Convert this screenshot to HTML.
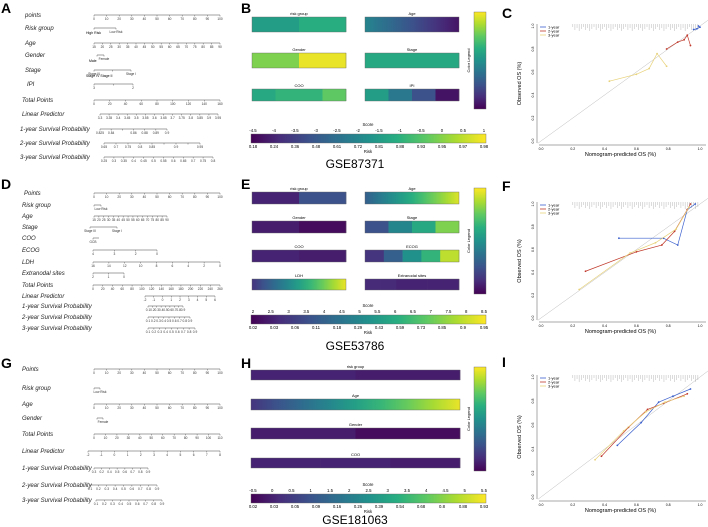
<!DOCTYPE html>
<html><head><meta charset="utf-8"><style>
html,body{margin:0;padding:0;background:#fff;}
svg{display:block;font-family:"Liberation Sans",sans-serif;}
</style></head><body>
<svg id="fig" width="708" height="527" viewBox="0 0 708 527"></svg>
<script>
// ---------- data ----------
const calC_1 = [[0.96,0.97],[0.98,0.975],[1.0,0.99],[0.99,1.0]];
const calC_2 = [[0.79,0.80],[0.86,0.86],[0.90,0.88],[0.92,0.92],[0.94,0.83]];
const calC_3 = [[0.43,0.52],[0.60,0.58],[0.68,0.63],[0.73,0.76],[0.79,0.65]];
const calF_1 = [[0.49,0.70],[0.77,0.70],[0.86,0.64],[0.92,0.95],[0.97,1.0]];
const calF_2 = [[0.28,0.41],[0.60,0.58],[0.76,0.64],[0.84,0.76],[0.92,0.95],[0.94,1.0]];
const calF_3 = [[0.24,0.25],[0.56,0.57],[0.72,0.66],[0.85,0.78],[0.93,0.97]];
const calI_1 = [[0.48,0.43],[0.63,0.62],[0.74,0.79],[0.83,0.84],[0.94,0.90]];
const calI_2 = [[0.38,0.34],[0.55,0.58],[0.67,0.73],[0.77,0.78],[0.92,0.86]];
const calI_3 = [[0.34,0.31],[0.52,0.55],[0.66,0.71],[0.78,0.79],[0.90,0.84]];
const calTicks = [0,0.2,0.4,0.6,0.8,1.0];
const heatB = {"risk group":[0.55,0.62],"Age":"g0.45-0.05","Gender":[0.8,0.97],"Stage":[0.6,0.6,0.6,0.6],"COO":[0.6,0.65,0.65,0.75],"IPI":[0.55,0.4,0.25,0.05]};
const heatE = {"risk group":[0.1,0.25],"Age":"g0.3-0.95","Gender":[0.08,0.03],"Stage":[0.25,0.45,0.6,0.8],"COO":[0.1,0.1,0.08,0.08],"ECOG":[0.15,0.3,0.5,0.65,0.9],"LDH":"g0.15-0.97","Extranodal sites":[0.12,0.12,0.1,0.1,0.1,0.1]};
const heatH = {"risk group":[0.1,0.08],"Age":"g0.15-0.97","Gender":[0.08,0.03],"COO":[0.1,0.1,0.08]};
const scoreB = ["-4.5","-4","-3.5","-3","-2.5","-2","-1.5","-1","-0.5","0","0.5","1"];
const riskB = ["0.18","0.24","0.36","0.48","0.61","0.72","0.81","0.88","0.93","0.95","0.97","0.98"];
const scoreE = ["2","2.5","3","3.5","4","4.5","5","5.5","6","6.5","7","7.5","8","8.5"];
const riskE = ["0.02","0.03","0.06","0.11","0.18","0.29","0.43","0.59","0.73","0.85","0.9","0.95"];
const scoreH = ["-0.5","0","0.5","1","1.5","2","2.5","3","3.5","4","4.5","5","5.5"];
const riskH = ["0.02","0.03","0.05","0.09","0.16","0.26","0.39","0.54","0.68","0.8","0.88","0.93"];

const S = document.getElementById('fig');
const NS = 'http://www.w3.org/2000/svg';
function el(tag, attrs, parent, txt){
  const e = document.createElementNS(NS, tag);
  for (const k in attrs) e.setAttribute(k, attrs[k]);
  if (txt !== undefined) e.textContent = txt;
  (parent||S).appendChild(e);
  return e;
}
const VS = ['#440154','#472d7b','#3b528b','#2c728e','#21918c','#28ae80','#5ec962','#addc30','#fde725'];
function vir(t){ t=Math.max(0,Math.min(1,t)); const f=t*8, i=Math.min(7,Math.floor(f)), r=f-i;
  const a=VS[i], b=VS[i+1]; const c=j=>Math.round(parseInt(a.substr(j,2),16)*(1-r)+parseInt(b.substr(j,2),16)*r);
  return 'rgb('+c(1)+','+c(3)+','+c(5)+')'; }
function grad(id, t0, t1){ const g=el('linearGradient',{id:id,x1:0,x2:1,y1:0,y2:0},defs);
  for(let k=0;k<=8;k++){ el('stop',{offset:k/8,'stop-color':vir(t0+(t1-t0)*k/8)},g);} return 'url(#'+id+')'; }
const defs = el('defs',{});
let gid=0;

[['A',1,13],['B',241,13],['C',502,18],['D',1,189],['E',241,189],['F',502,191],['G',1,368],['H',241,368],['I',502,367]].forEach(p=>{
  const t=el('text',{x:p[1],y:p[2],'font-size':14,'font-weight':'bold'},S,p[0]);
  
  
});

function nomo(rows, name){
  const g=el('g',{});
  
  
  rows.forEach(r=>{
    const [label,y,x0,x1,ticks,lab] = r;
    el('text',{x:lab||22,y:y+2,'font-size':6,'font-style':'italic',fill:'#222'},g,label);
    el('line',{x1:x0,x2:x1,y1:y,y2:y,stroke:'#444','stroke-width':0.5},g);
    ticks.forEach((tk,i)=>{
      const x = x0+(x1-x0)*i/Math.max(1,ticks.length-1);
      el('line',{x1:x,x2:x,y1:y,y2:y+1.5,stroke:'#444','stroke-width':0.4},g);
      el('text',{x:x,y:y+5,'font-size':3.2,'text-anchor':'middle',fill:'#333'},g,tk);
    });
  });
  return g;
}
const seq=(a,b,s)=>{const o=[];for(let v=a;v<=b+1e-9;v+=s)o.push(String(+v.toFixed(2)));return o;};
nomo([
 ['points',15,94,220,seq(0,100,10),25],
 ['Risk group',28,94,116,['','Low Risk'],25],
 ['Age',43,94,220,seq(15,90,5),25],
 ['Gender',55,97,104,['','Female'],25],
 ['Stage',70,94,131,['Stage III','','Stage I'],25],
 ['IPI',84,94,133,['3','','2'],27],
 ['Total Points',100,94,220,seq(0,160,20),22],
 ['Linear Predictor',114,100,218,['3.3','3.35','3.4','3.45','3.5','3.55','3.6','3.65','3.7','3.75','3.8','3.85','3.9','3.95'],22],
 ['1-year Survival Probability',129,100,167,['0.825','0.84','','0.86','0.88','0.89','0.9'],20],
 ['2-year Survival Probability',143,104,200,['0.65','0.7','0.75','0.8','0.85','','0.9','','0.95'],20],
 ['3-year Survival Probability',157,104,213,['0.25','0.3','0.35','0.4','0.45','0.5','0.55','0.6','0.65','0.7','0.75','0.8'],20]
],'nomogram-a');
el('text',{x:86,y:34,'font-size':3.5},S,'High Risk');
el('text',{x:89,y:62,'font-size':3.5},S,'Male');
el('text',{x:86,y:77,'font-size':3.5},S,'Stage IV   Stage II');
nomo([
 ['Points',193,94,220,seq(0,100,10),24],
 ['Risk group',205,94,101,['','Low Risk'],22],
 ['Age',216,94,167,seq(15,90,5),22],
 ['Stage',227,90,117,['Stage III','Stage I'],22],
 ['COO',238,93,99,['GCB'],22],
 ['ECOG',250,93,157,['4','3','2','0'],22],
 ['LDH',262,93,220,['16','14','12','10','8','6','4','2','0'],22],
 ['Extranodal sites',273,93,124,['2','1','0'],22],
 ['Total Points',285,93,220,seq(0,260,20),22],
 ['Linear Predictor',296,145,215,['-2','-1','0','1','2','3','4','5','6'],22],
 ['1-year Survival Probability',306,148,183,seq(0.1,1,0.1).slice(0,9),22],
 ['2-year Survival Probability',317,148,190,seq(0.1,1,0.1).slice(0,9),22],
 ['3-year Survival Probability',328,148,195,seq(0.1,1,0.1).slice(0,9),22]
],'nomogram-d');
nomo([
 ['Points',369,94,220,seq(0,100,10),22],
 ['Risk group',388,94,100,['','Low Risk'],22],
 ['Age',404,94,220,seq(0,100,10),22],
 ['Gender',418,97,103,['','Female'],22],
 ['Total Points',434,94,220,seq(0,110,10),22],
 ['Linear Predictor',451,88,220,['-2','-1','0','1','2','3','4','5','6','7','8'],22],
 ['1-year Survival Probability',468,94,148,['0.3','0.2','0.4','0.5','0.6','0.7','0.8','0.9'],22],
 ['2-year Survival Probability',485,90,157,['0.1','0.2','0.3','0.4','0.5','0.6','0.7','0.8','0.9'],22],
 ['3-year Survival Probability',500,96,162,['0.1','0.2','0.3','0.4','0.5','0.6','0.7','0.8','0.9'],22]
],'nomogram-g');

function heatPanel(data, boxes, name){
  const g=el('g',{});  
  Object.keys(data).forEach((k,i)=>{
    const [x,y,w,h]=boxes[i]; const v=data[k];
    el('text',{x:x+w/2,y:y-2,'font-size':4,'text-anchor':'middle'},g,k);
    if(typeof v==='string'){ const m=v.slice(1).split('-').map(Number);
      el('rect',{x:x,y:y,width:w,height:h,fill:grad('g'+(gid++),m[0],m[1])},g);
    } else v.forEach((t,j)=>{ el('rect',{x:x+w*j/v.length,y:y,width:w/v.length+0.3,height:h,fill:vir(t)},g); });
    el('rect',{x:x,y:y,width:w,height:h,fill:'none',stroke:'#666','stroke-width':0.4},g);
  });
}
function scoreBar(y, scores, risks, title, ty, cbY, cbH, name){
  const g=el('g',{});  
  el('rect',{x:251,y:y,width:235,height:9,fill:grad('g'+(gid++),0,1),stroke:'#666','stroke-width':0.4},g);
  el('text',{x:368,y:y-8,'font-size':4.2,'text-anchor':'middle'},g,'Score');
  scores.forEach((s,i)=>el('text',{x:253+231*i/(scores.length-1),y:y-2,'font-size':4.3,'text-anchor':'middle'},g,s));
  risks.forEach((s,i)=>el('text',{x:253+231*i/(risks.length-1),y:y+14,'font-size':4.3,'text-anchor':'middle'},g,s));
  el('text',{x:368,y:y+19,'font-size':4.2,'text-anchor':'middle'},g,'Risk');
  el('text',{x:355,y:ty,'font-size':12,'text-anchor':'middle'},g,title);
  const cg=el('linearGradient',{id:'cb'+gid,x1:0,x2:0,y1:1,y2:0},defs);
  for(let k=0;k<=8;k++) el('stop',{offset:k/8,'stop-color':vir(k/8)},cg);
  el('rect',{x:474,y:cbY,width:12,height:cbH,fill:'url(#cb'+(gid++)+')',stroke:'#666','stroke-width':0.4},g);
  el('text',{x:0,y:0,'font-size':4,'text-anchor':'middle',transform:'translate(470,'+(cbY+cbH/2)+') rotate(-90)'},g,'Color Legend');
}
const L=252,R=365,W=94;
heatPanel(heatB,[[L,17,W,15],[R,17,W,15],[L,53,W,15],[R,53,W,15],[L,89,W,12],[R,89,W,12]],'heatmap-b');
scoreBar(134,scoreB,riskB,'GSE87371',168,12,97,'score-bar-b');
heatPanel(heatE,[[L,192,W,12],[R,192,W,12],[L,221,W,12],[R,221,W,12],[L,250,W,12],[R,250,W,12],[L,279,W,11],[R,279,W,11]],'heatmap-e');
scoreBar(315,scoreE,riskE,'GSE53786',350,188,106,'score-bar-e');
heatPanel(heatH,[[251,370,209,10],[251,399,209,11],[251,428,209,11],[251,458,209,10]],'heatmap-h');
scoreBar(494,scoreH,riskH,'GSE181063',524,367,104,'score-bar-h');

function calib(y1, y0, s1, s2, s3, name){
  const g=el('g',{});  
  const X=v=>541+159*v, Y=v=>y0-(y0-y1)*v;
  el('line',{x1:537,x2:537,y1:Y(1)-2,y2:Y(0)+2,stroke:'#555','stroke-width':0.5},g);
  el('line',{x1:X(0)-2,x2:706,y1:Y(0)+4,y2:Y(0)+4,stroke:'#555','stroke-width':0.5},g);
  calTicks.forEach(t=>{
    el('text',{x:0,y:0,'font-size':3.5,'text-anchor':'middle',transform:'translate(534,'+Y(t)+') rotate(-90)'},g,t.toFixed(1));
    el('text',{x:X(t),y:Y(0)+9,'font-size':3.5,'text-anchor':'middle'},g,t.toFixed(1));
  });
  el('line',{x1:X(-0.02),y1:Y(-0.02),x2:X(1.05),y2:Y(1.05),stroke:'#bbb','stroke-width':0.5},g);
  for(let i=0;i<60;i++){ const x=X(0.2+0.8*((i*37)%60)/60); el('line',{x1:x,x2:x,y1:Y(1)-2,y2:Y(1)+1+(i%5),stroke:'#888','stroke-width':0.3},g);}
  [[s1,'#3a5fcd'],[s2,'#c0392b'],[s3,'#e8d27a']].forEach(([s,c])=>{
    el('polyline',{points:s.map(p=>X(p[0])+','+Y(p[1])).join(' '),fill:'none',stroke:c,'stroke-width':0.7},g);
    s.forEach(p=>el('circle',{cx:X(p[0]),cy:Y(p[1]),r:0.9,fill:c},g));
  });
  [['1-year','#3a5fcd'],['2-year','#c0392b'],['3-year','#e8d27a']].forEach((l,i)=>{
    el('line',{x1:540,x2:546,y1:Y(1)+1+i*4,y2:Y(1)+1+i*4,stroke:l[1],'stroke-width':0.8},g);
    el('text',{x:548,y:Y(1)+2.5+i*4,'font-size':4},g,l[0]);
  });
  el('text',{x:X(0.5),y:Y(0)+15,'font-size':5.5,'text-anchor':'middle'},g,'Nomogram-predicted OS (%)');
  el('text',{x:0,y:0,'font-size':5.5,'text-anchor':'middle',transform:'translate(521,'+(Y(0.5))+') rotate(-90)'},g,'Observed OS (%)');
}
calib(26,141,calC_1,calC_2,calC_3,'calibration-c');
calib(204,318,calF_1,calF_2,calF_3,'calibration-f');
calib(377,497,calI_1,calI_2,calI_3,'calibration-i');
</script>
</body></html>
